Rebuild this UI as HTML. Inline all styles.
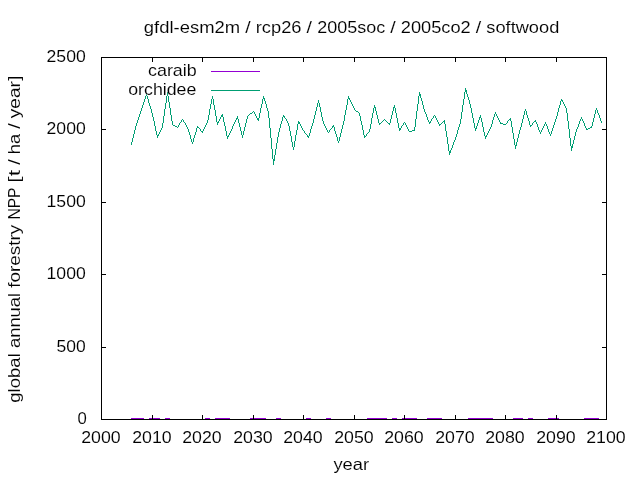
<!DOCTYPE html>
<html><head><meta charset="utf-8"><title>gfdl-esm2m / rcp26 / 2005soc / 2005co2 / softwood</title>
<style>
html,body{margin:0;padding:0;background:#fff;}
body{width:640px;height:480px;overflow:hidden;font-family:"Liberation Sans",sans-serif;}
svg{display:block;will-change:transform;}
svg text{font-family:"Liberation Sans",sans-serif;font-size:16.6px;fill:#000;stroke:#fff;stroke-width:0.1px;}
.ln{shape-rendering:crispEdges;}
</style></head><body>
<svg width="640" height="480" viewBox="0 0 640 480">
<rect x="0" y="0" width="640" height="480" fill="#ffffff"/>

<g class="ln">
<rect x="131" y="418" width="13" height="1" fill="#9400d3"/>
<rect x="149" y="418" width="11" height="1" fill="#9400d3"/>
<rect x="165" y="418" width="5" height="1" fill="#9400d3"/>
<rect x="205" y="418" width="5" height="1" fill="#9400d3"/>
<rect x="215" y="418" width="15" height="1" fill="#9400d3"/>
<rect x="250" y="418" width="16" height="1" fill="#9400d3"/>
<rect x="276" y="418" width="5" height="1" fill="#9400d3"/>
<rect x="306" y="418" width="5" height="1" fill="#9400d3"/>
<rect x="326" y="418" width="5" height="1" fill="#9400d3"/>
<rect x="367" y="418" width="20" height="1" fill="#9400d3"/>
<rect x="392" y="418" width="5" height="1" fill="#9400d3"/>
<rect x="402" y="418" width="15" height="1" fill="#9400d3"/>
<rect x="427" y="418" width="15" height="1" fill="#9400d3"/>
<rect x="468" y="418" width="25" height="1" fill="#9400d3"/>
<rect x="513" y="418" width="10" height="1" fill="#9400d3"/>
<rect x="528" y="418" width="5" height="1" fill="#9400d3"/>
<rect x="548" y="418" width="11" height="1" fill="#9400d3"/>
<rect x="584" y="418" width="15" height="1" fill="#9400d3"/>
<path d="M131 142h1v3h-1zM132 138h1v4h-1zM133 134h1v4h-1zM134 130h1v4h-1zM135 126h1v4h-1zM136 123h1v3h-1zM137 120h1v3h-1zM138 117h1v3h-1zM139 114h1v3h-1zM140 111h1v3h-1zM141 108h1v3h-1zM142 105h1v3h-1zM143 102h1v3h-1zM144 99h1v3h-1zM145 96h1v3h-1zM146 94h1v2h-1zM147 96h1v3h-1zM148 99h1v4h-1zM149 103h1v3h-1zM150 106h1v3h-1zM151 109h1v4h-1zM152 113h1v4h-1zM153 117h1v4h-1zM154 121h1v5h-1zM155 126h1v5h-1zM156 131h1v4h-1zM157 135h1v3h-1zM158 134h1v2h-1zM159 132h1v2h-1zM160 130h1v2h-1zM161 128h1v2h-1zM162 123h1v5h-1zM163 116h1v7h-1zM164 109h1v7h-1zM165 103h1v6h-1zM166 96h1v7h-1zM167 92h1v4h-1zM168 96h1v6h-1zM169 102h1v6h-1zM170 108h1v7h-1zM171 115h1v6h-1zM172 121h1v4h-1zM173 125h1v1h-1zM174 125h1v1h-1zM175 126h1v1h-1zM176 126h1v1h-1zM177 127h1v1h-1zM178 125h1v2h-1zM179 123h1v2h-1zM180 122h1v1h-1zM181 120h1v2h-1zM182 119h1v1h-1zM183 120h1v2h-1zM184 122h1v1h-1zM185 123h1v2h-1zM186 125h1v2h-1zM187 127h1v2h-1zM188 129h1v3h-1zM189 132h1v3h-1zM190 135h1v4h-1zM191 139h1v3h-1zM192 142h1v2h-1zM193 138h1v4h-1zM194 135h1v3h-1zM195 132h1v3h-1zM196 128h1v4h-1zM197 126h1v2h-1zM198 127h1v1h-1zM199 128h1v1h-1zM200 129h1v2h-1zM201 131h1v1h-1zM202 131h1v2h-1zM203 129h1v2h-1zM204 127h1v2h-1zM205 125h1v2h-1zM206 123h1v2h-1zM207 120h1v3h-1zM208 115h1v5h-1zM209 109h1v6h-1zM210 104h1v5h-1zM211 99h1v5h-1zM212 96h1v3h-1zM213 99h1v6h-1zM214 105h1v5h-1zM215 110h1v6h-1zM216 116h1v6h-1zM217 122h1v3h-1zM218 121h1v2h-1zM219 119h1v2h-1zM220 117h1v2h-1zM221 115h1v2h-1zM222 114h1v3h-1zM223 117h1v5h-1zM224 122h1v4h-1zM225 126h1v5h-1zM226 131h1v5h-1zM227 136h1v3h-1zM228 135h1v2h-1zM229 133h1v2h-1zM230 131h1v2h-1zM231 129h1v2h-1zM232 126h1v3h-1zM233 124h1v2h-1zM234 122h1v2h-1zM235 120h1v2h-1zM236 118h1v2h-1zM237 116h1v3h-1zM238 119h1v4h-1zM239 123h1v4h-1zM240 127h1v4h-1zM241 131h1v4h-1zM242 135h1v3h-1zM243 131h1v4h-1zM244 127h1v4h-1zM245 123h1v4h-1zM246 119h1v4h-1zM247 116h1v3h-1zM248 115h1v1h-1zM249 114h1v1h-1zM250 113h1v1h-1zM251 113h1v1h-1zM252 112h1v1h-1zM253 111h1v1h-1zM254 112h1v2h-1zM255 114h1v2h-1zM256 116h1v2h-1zM257 118h1v2h-1zM258 118h1v3h-1zM259 113h1v5h-1zM260 108h1v5h-1zM261 104h1v4h-1zM262 99h1v5h-1zM263 96h1v3h-1zM264 98h1v3h-1zM265 101h1v3h-1zM266 104h1v4h-1zM267 108h1v3h-1zM268 111h1v7h-1zM269 118h1v10h-1zM270 128h1v10h-1zM271 138h1v11h-1zM272 149h1v10h-1zM273 159h1v6h-1zM274 155h1v6h-1zM275 149h1v6h-1zM276 143h1v6h-1zM277 137h1v6h-1zM278 132h1v5h-1zM279 128h1v4h-1zM280 124h1v4h-1zM281 121h1v3h-1zM282 117h1v4h-1zM283 115h1v2h-1zM284 116h1v2h-1zM285 118h1v1h-1zM286 119h1v2h-1zM287 121h1v2h-1zM288 123h1v3h-1zM289 126h1v5h-1zM290 131h1v5h-1zM291 136h1v6h-1zM292 142h1v5h-1zM293 147h1v3h-1zM294 141h1v6h-1zM295 135h1v6h-1zM296 130h1v5h-1zM297 124h1v6h-1zM298 121h1v3h-1zM299 122h1v2h-1zM300 124h1v2h-1zM301 126h1v2h-1zM302 128h1v2h-1zM303 130h1v1h-1zM304 131h1v2h-1zM305 133h1v1h-1zM306 134h1v1h-1zM307 135h1v2h-1zM308 136h1v2h-1zM309 133h1v3h-1zM310 129h1v4h-1zM311 126h1v3h-1zM312 123h1v3h-1zM313 119h1v4h-1zM314 115h1v4h-1zM315 111h1v4h-1zM316 107h1v4h-1zM317 103h1v4h-1zM318 100h1v3h-1zM319 103h1v4h-1zM320 107h1v5h-1zM321 112h1v5h-1zM322 117h1v4h-1zM323 121h1v3h-1zM324 124h1v2h-1zM325 126h1v2h-1zM326 128h1v2h-1zM327 130h1v2h-1zM328 132h1v1h-1zM329 130h1v2h-1zM330 129h1v1h-1zM331 128h1v1h-1zM332 126h1v2h-1zM333 125h1v2h-1zM334 127h1v4h-1zM335 131h1v3h-1zM336 134h1v3h-1zM337 137h1v4h-1zM338 141h1v2h-1zM339 137h1v4h-1zM340 133h1v4h-1zM341 129h1v4h-1zM342 125h1v4h-1zM343 121h1v4h-1zM344 115h1v6h-1zM345 110h1v5h-1zM346 105h1v5h-1zM347 99h1v6h-1zM348 96h1v3h-1zM349 98h1v2h-1zM350 100h1v2h-1zM351 102h1v2h-1zM352 104h1v2h-1zM353 106h1v2h-1zM354 108h1v2h-1zM355 110h1v1h-1zM356 111h1v1h-1zM357 111h1v1h-1zM358 112h1v1h-1zM359 113h1v3h-1zM360 116h1v5h-1zM361 121h1v4h-1zM362 125h1v5h-1zM363 130h1v5h-1zM364 135h1v3h-1zM365 136h1v1h-1zM366 134h1v2h-1zM367 133h1v1h-1zM368 132h1v1h-1zM369 129h1v3h-1zM370 124h1v5h-1zM371 118h1v6h-1zM372 113h1v5h-1zM373 108h1v5h-1zM374 105h1v3h-1zM375 107h1v4h-1zM376 111h1v4h-1zM377 115h1v4h-1zM378 119h1v4h-1zM379 123h1v2h-1zM380 123h1v1h-1zM381 122h1v1h-1zM382 121h1v1h-1zM383 120h1v1h-1zM384 119h1v1h-1zM385 120h1v1h-1zM386 121h1v1h-1zM387 122h1v1h-1zM388 123h1v1h-1zM389 123h1v2h-1zM390 119h1v4h-1zM391 115h1v4h-1zM392 111h1v4h-1zM393 107h1v4h-1zM394 105h1v3h-1zM395 108h1v5h-1zM396 113h1v5h-1zM397 118h1v5h-1zM398 123h1v5h-1zM399 128h1v3h-1zM400 128h1v2h-1zM401 126h1v2h-1zM402 125h1v1h-1zM403 123h1v2h-1zM404 122h1v1h-1zM405 123h1v2h-1zM406 125h1v2h-1zM407 127h1v2h-1zM408 129h1v2h-1zM409 131h1v1h-1zM410 131h1v1h-1zM411 131h1v1h-1zM412 130h1v1h-1zM413 130h1v1h-1zM414 127h1v4h-1zM415 119h1v8h-1zM416 111h1v8h-1zM417 104h1v7h-1zM418 96h1v8h-1zM419 92h1v4h-1zM420 94h1v4h-1zM421 98h1v3h-1zM422 101h1v4h-1zM423 105h1v4h-1zM424 109h1v3h-1zM425 112h1v2h-1zM426 114h1v3h-1zM427 117h1v3h-1zM428 120h1v2h-1zM429 122h1v2h-1zM430 121h1v2h-1zM431 119h1v2h-1zM432 118h1v1h-1zM433 116h1v2h-1zM434 115h1v1h-1zM435 116h1v2h-1zM436 118h1v2h-1zM437 120h1v2h-1zM438 122h1v2h-1zM439 124h1v2h-1zM440 124h1v1h-1zM441 123h1v1h-1zM442 122h1v1h-1zM443 121h1v1h-1zM444 120h1v4h-1zM445 124h1v7h-1zM446 131h1v6h-1zM447 137h1v7h-1zM448 144h1v7h-1zM449 151h1v4h-1zM450 150h1v3h-1zM451 148h1v2h-1zM452 145h1v3h-1zM453 142h1v3h-1zM454 140h1v2h-1zM455 137h1v3h-1zM456 134h1v3h-1zM457 130h1v4h-1zM458 127h1v3h-1zM459 124h1v3h-1zM460 119h1v5h-1zM461 112h1v7h-1zM462 105h1v7h-1zM463 99h1v6h-1zM464 92h1v7h-1zM465 88h1v4h-1zM466 90h1v4h-1zM467 94h1v3h-1zM468 97h1v3h-1zM469 100h1v4h-1zM470 104h1v4h-1zM471 108h1v5h-1zM472 113h1v5h-1zM473 118h1v5h-1zM474 123h1v5h-1zM475 128h1v3h-1zM476 126h1v3h-1zM477 123h1v3h-1zM478 120h1v3h-1zM479 117h1v3h-1zM480 115h1v3h-1zM481 118h1v4h-1zM482 122h1v5h-1zM483 127h1v5h-1zM484 132h1v4h-1zM485 136h1v3h-1zM486 135h1v2h-1zM487 133h1v2h-1zM488 131h1v2h-1zM489 129h1v2h-1zM490 127h1v2h-1zM491 124h1v3h-1zM492 120h1v4h-1zM493 117h1v3h-1zM494 114h1v3h-1zM495 112h1v2h-1zM496 114h1v2h-1zM497 116h1v2h-1zM498 118h1v2h-1zM499 120h1v2h-1zM500 122h1v2h-1zM501 123h1v1h-1zM502 123h1v1h-1zM503 124h1v1h-1zM504 124h1v1h-1zM505 124h1v1h-1zM506 123h1v1h-1zM507 121h1v2h-1zM508 120h1v1h-1zM509 119h1v1h-1zM510 118h1v3h-1zM511 121h1v6h-1zM512 127h1v6h-1zM513 133h1v6h-1zM514 139h1v6h-1zM515 145h1v4h-1zM516 142h1v4h-1zM517 138h1v4h-1zM518 134h1v4h-1zM519 130h1v4h-1zM520 127h1v3h-1zM521 123h1v4h-1zM522 119h1v4h-1zM523 115h1v4h-1zM524 111h1v4h-1zM525 109h1v2h-1zM526 111h1v4h-1zM527 115h1v3h-1zM528 118h1v3h-1zM529 121h1v4h-1zM530 125h1v2h-1zM531 125h1v1h-1zM532 123h1v2h-1zM533 122h1v1h-1zM534 121h1v1h-1zM535 120h1v2h-1zM536 122h1v2h-1zM537 124h1v3h-1zM538 127h1v3h-1zM539 130h1v2h-1zM540 132h1v2h-1zM541 130h1v2h-1zM542 128h1v2h-1zM543 126h1v2h-1zM544 124h1v2h-1zM545 122h1v2h-1zM546 124h1v2h-1zM547 126h1v3h-1zM548 129h1v3h-1zM549 132h1v2h-1zM550 134h1v2h-1zM551 131h1v3h-1zM552 128h1v3h-1zM553 125h1v3h-1zM554 122h1v3h-1zM555 119h1v3h-1zM556 116h1v3h-1zM557 112h1v4h-1zM558 108h1v4h-1zM559 105h1v3h-1zM560 101h1v4h-1zM561 99h1v2h-1zM562 100h1v2h-1zM563 102h1v2h-1zM564 104h1v2h-1zM565 106h1v2h-1zM566 108h1v5h-1zM567 113h1v8h-1zM568 121h1v8h-1zM569 129h1v9h-1zM570 138h1v8h-1zM571 146h1v5h-1zM572 144h1v4h-1zM573 140h1v4h-1zM574 136h1v4h-1zM575 132h1v4h-1zM576 129h1v3h-1zM577 127h1v2h-1zM578 124h1v3h-1zM579 121h1v3h-1zM580 119h1v2h-1zM581 117h1v2h-1zM582 119h1v2h-1zM583 121h1v2h-1zM584 123h1v3h-1zM585 126h1v2h-1zM586 128h1v2h-1zM587 129h1v1h-1zM588 128h1v1h-1zM589 128h1v1h-1zM590 127h1v1h-1zM591 126h1v2h-1zM592 122h1v4h-1zM593 118h1v4h-1zM594 114h1v4h-1zM595 110h1v4h-1zM596 108h1v2h-1zM597 110h1v3h-1zM598 113h1v2h-1zM599 115h1v3h-1zM600 118h1v3h-1zM601 121h1v2h-1z" fill="#009e73"/>
<rect x="211" y="71" width="49" height="1" fill="#9400d3"/>
<rect x="211" y="90" width="49" height="1" fill="#009e73"/>
<rect x="101" y="57" width="506" height="1" fill="#000"/>
<rect x="101" y="419" width="506" height="1" fill="#000"/>
<rect x="101" y="57" width="1" height="363" fill="#000"/>
<rect x="606" y="57" width="1" height="363" fill="#000"/>
<rect x="152" y="415" width="1" height="5" fill="#000"/>
<rect x="152" y="57" width="1" height="5" fill="#000"/>
<rect x="202" y="415" width="1" height="5" fill="#000"/>
<rect x="202" y="57" width="1" height="5" fill="#000"/>
<rect x="253" y="415" width="1" height="5" fill="#000"/>
<rect x="253" y="57" width="1" height="5" fill="#000"/>
<rect x="303" y="415" width="1" height="5" fill="#000"/>
<rect x="303" y="57" width="1" height="5" fill="#000"/>
<rect x="354" y="415" width="1" height="5" fill="#000"/>
<rect x="354" y="57" width="1" height="5" fill="#000"/>
<rect x="404" y="415" width="1" height="5" fill="#000"/>
<rect x="404" y="57" width="1" height="5" fill="#000"/>
<rect x="455" y="415" width="1" height="5" fill="#000"/>
<rect x="455" y="57" width="1" height="5" fill="#000"/>
<rect x="505" y="415" width="1" height="5" fill="#000"/>
<rect x="505" y="57" width="1" height="5" fill="#000"/>
<rect x="556" y="415" width="1" height="5" fill="#000"/>
<rect x="556" y="57" width="1" height="5" fill="#000"/>
<rect x="101" y="347" width="5" height="1" fill="#000"/>
<rect x="602" y="347" width="5" height="1" fill="#000"/>
<rect x="101" y="274" width="5" height="1" fill="#000"/>
<rect x="602" y="274" width="5" height="1" fill="#000"/>
<rect x="101" y="202" width="5" height="1" fill="#000"/>
<rect x="602" y="202" width="5" height="1" fill="#000"/>
<rect x="101" y="129" width="5" height="1" fill="#000"/>
<rect x="602" y="129" width="5" height="1" fill="#000"/>
</g>
<text y="32.55" text-anchor="start" style="font-size:16.6px"><tspan x="143.89" textLength="96.22" lengthAdjust="spacingAndGlyphs">gfdl-esm2m</tspan> <tspan x="245.21" textLength="5.42" lengthAdjust="spacingAndGlyphs">/</tspan> <tspan x="255.74" textLength="45.79" lengthAdjust="spacingAndGlyphs">rcp26</tspan> <tspan x="306.64" textLength="5.44" lengthAdjust="spacingAndGlyphs">/</tspan> <tspan x="317.18" textLength="68.01" lengthAdjust="spacingAndGlyphs">2005soc</tspan> <tspan x="390.29" textLength="5.44" lengthAdjust="spacingAndGlyphs">/</tspan> <tspan x="400.83" textLength="69.86" lengthAdjust="spacingAndGlyphs">2005co2</tspan> <tspan x="475.80" textLength="5.44" lengthAdjust="spacingAndGlyphs">/</tspan> <tspan x="486.34" textLength="72.97" lengthAdjust="spacingAndGlyphs">softwood</tspan></text>
<text x="86.92" y="424.00" text-anchor="end" style="font-size:17.31px" textLength="9.31" lengthAdjust="spacingAndGlyphs">0</text>
<text x="85.80" y="352.00" text-anchor="end" style="font-size:17.31px" textLength="29.19" lengthAdjust="spacingAndGlyphs">500</text>
<text x="85.80" y="279.00" text-anchor="end" style="font-size:17.31px" textLength="39.25" lengthAdjust="spacingAndGlyphs">1000</text>
<text x="85.80" y="207.00" text-anchor="end" style="font-size:17.31px" textLength="39.25" lengthAdjust="spacingAndGlyphs">1500</text>
<text x="85.80" y="134.00" text-anchor="end" style="font-size:17.31px" textLength="39.25" lengthAdjust="spacingAndGlyphs">2000</text>
<text x="85.80" y="62.00" text-anchor="end" style="font-size:17.31px" textLength="39.25" lengthAdjust="spacingAndGlyphs">2500</text>
<text x="100.92" y="442.90" text-anchor="middle" style="font-size:17.31px" textLength="39.50" lengthAdjust="spacingAndGlyphs">2000</text>
<text x="151.92" y="442.90" text-anchor="middle" style="font-size:17.31px" textLength="39.50" lengthAdjust="spacingAndGlyphs">2010</text>
<text x="201.92" y="442.90" text-anchor="middle" style="font-size:17.31px" textLength="39.50" lengthAdjust="spacingAndGlyphs">2020</text>
<text x="252.92" y="442.90" text-anchor="middle" style="font-size:17.31px" textLength="39.50" lengthAdjust="spacingAndGlyphs">2030</text>
<text x="302.92" y="442.90" text-anchor="middle" style="font-size:17.31px" textLength="39.50" lengthAdjust="spacingAndGlyphs">2040</text>
<text x="353.92" y="442.90" text-anchor="middle" style="font-size:17.31px" textLength="39.50" lengthAdjust="spacingAndGlyphs">2050</text>
<text x="403.92" y="442.90" text-anchor="middle" style="font-size:17.31px" textLength="39.50" lengthAdjust="spacingAndGlyphs">2060</text>
<text x="454.92" y="442.90" text-anchor="middle" style="font-size:17.31px" textLength="39.50" lengthAdjust="spacingAndGlyphs">2070</text>
<text x="504.92" y="442.90" text-anchor="middle" style="font-size:17.31px" textLength="39.50" lengthAdjust="spacingAndGlyphs">2080</text>
<text x="555.92" y="442.90" text-anchor="middle" style="font-size:17.31px" textLength="39.50" lengthAdjust="spacingAndGlyphs">2090</text>
<text x="605.92" y="442.90" text-anchor="middle" style="font-size:17.31px" textLength="39.50" lengthAdjust="spacingAndGlyphs">2100</text>
<text x="351.25" y="470.42" text-anchor="middle" style="font-size:16.27px" textLength="35.70" lengthAdjust="spacingAndGlyphs">year</text>
<text x="196.75" y="76.18" text-anchor="end" style="font-size:16.94px" textLength="48.78" lengthAdjust="spacingAndGlyphs">caraib</text>
<text x="196.38" y="95.18" text-anchor="end" style="font-size:16.94px" textLength="68.16" lengthAdjust="spacingAndGlyphs">orchidee</text>
<text transform="translate(19.75,239.20) rotate(-90)" y="0" text-anchor="start" style="font-size:16.6px"><tspan x="-163.50" textLength="49.47" lengthAdjust="spacingAndGlyphs">global</tspan> <tspan x="-108.88" textLength="55.23" lengthAdjust="spacingAndGlyphs">annual</tspan> <tspan x="-48.50" textLength="63.01" lengthAdjust="spacingAndGlyphs">forestry</tspan> <tspan x="19.66" textLength="31.71" lengthAdjust="spacingAndGlyphs">NPP</tspan> <tspan x="56.52" textLength="12.69" lengthAdjust="spacingAndGlyphs">[t</tspan> <tspan x="74.35" textLength="5.48" lengthAdjust="spacingAndGlyphs">/</tspan> <tspan x="84.98" textLength="20.23" lengthAdjust="spacingAndGlyphs">ha</tspan> <tspan x="110.36" textLength="5.46" lengthAdjust="spacingAndGlyphs">/</tspan> <tspan x="120.97" textLength="42.53" lengthAdjust="spacingAndGlyphs">year]</tspan></text>
</svg>
</body></html>
